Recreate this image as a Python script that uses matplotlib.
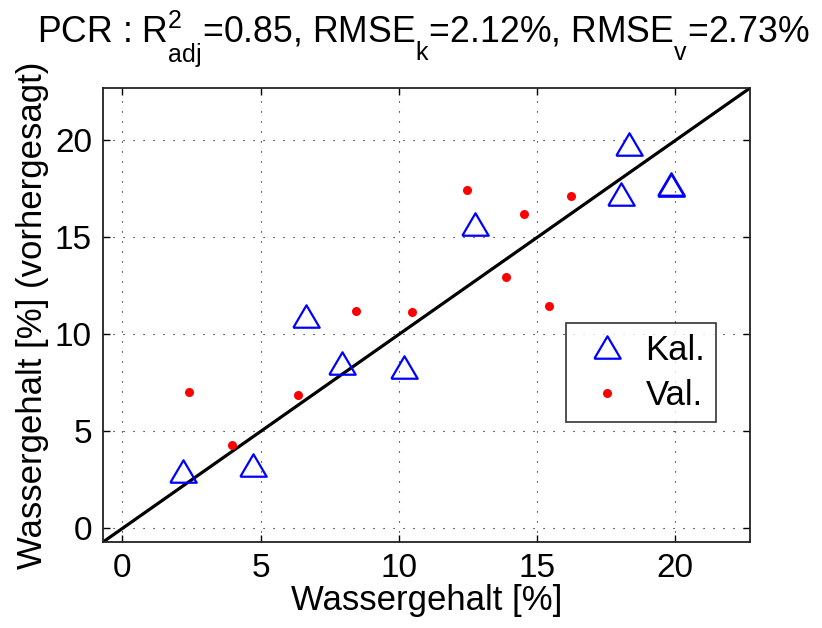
import matplotlib
matplotlib.use('Agg')
import matplotlib.pyplot as plt
import numpy as np

plt.rcParams['font.family'] = ['Liberation Sans', 'DejaVu Sans']
plt.rcParams['mathtext.fontset'] = 'custom'
plt.rcParams['mathtext.rm'] = 'Liberation Sans'
plt.rcParams['mathtext.it'] = 'Liberation Sans'

# MATLAB setzt Indizes tiefer als mathtext
try:
    from matplotlib import _mathtext
    _mathtext.FontConstantsBase.sub1 = 0.9
    _mathtext.FontConstantsBase.sub2 = 1.0
except Exception:
    pass

# Kalibrierung (gemessen, vorhergesagt)
kal_x = [2.2, 4.73, 6.66, 7.96, 10.2, 12.77, 18.02, 18.31, 19.84, 19.86]
kal_y = [2.98, 3.25, 10.96, 8.52, 8.32, 15.71, 17.24, 19.84, 17.75, 17.7]

# Validierung
val_x = [2.41, 3.97, 6.35, 8.44, 10.48, 12.47, 13.89, 14.54, 15.43, 16.21]
val_y = [7.01, 4.31, 6.87, 11.19, 11.15, 17.47, 12.97, 16.19, 11.44, 17.15]

lims = [-0.7, 22.7]
ticks = [0, 5, 10, 15, 20]

title = (r'PCR : R$^{2}_{\mathrm{adj}}$=0.85, RMSE$_{\mathrm{k}}$=2.12%, '
         r'RMSE$_{\mathrm{v}}$=2.73%')

fig = plt.figure(figsize=(8.22, 6.28), dpi=100)
ax = fig.add_axes([0.1253, 0.1369, 0.7871, 0.7229])

# Dreieck wie bei MATLAB (etwas flacher als breit)
tri = [(-1, -0.85), (1, -0.85), (0, 0.85), (-1, -0.85)]

ax.plot(lims, lims, color='black', linewidth=2.3, zorder=2)
ax.plot(kal_x, kal_y, linestyle='none', marker=tri, markersize=19,
        markerfacecolor='none', markeredgecolor='blue', markeredgewidth=1.6,
        label='Kal.', zorder=3)
ax.plot(val_x, val_y, linestyle='none', marker='o', markersize=6.5,
        markerfacecolor='red', markeredgecolor='red', markeredgewidth=0,
        label='Val.', zorder=3)

ax.set_xlim(lims)
ax.set_ylim(lims)
ax.set_xticks(ticks)
ax.set_yticks(ticks)
ax.tick_params(direction='in', length=5, width=1, labelsize=24,
               top=True, right=True, pad=8)
ax.grid(True, color='black', linestyle=(0, (1, 8)), linewidth=0.8)
for sp in ax.spines.values():
    sp.set_linewidth(1.3)
    sp.set_color('#222222')

ax.set_xlabel('Wassergehalt [%]', fontsize=25, labelpad=0)
ax.set_ylabel('Wassergehalt [%] (vorhergesagt)', fontsize=25, labelpad=4)
ax.set_title(title, fontsize=25.7, x=0.495, y=1.082, va='baseline')

leg = ax.legend(loc='upper right', bbox_to_anchor=(0.947, 0.482),
                fontsize=25, frameon=True, fancybox=False, edgecolor='black',
                handlelength=1.8, handletextpad=0.2, borderpad=0.3,
                labelspacing=0.35, borderaxespad=0)
leg.get_frame().set_linewidth(1.2)

fig.savefig('out.png', dpi=100)
